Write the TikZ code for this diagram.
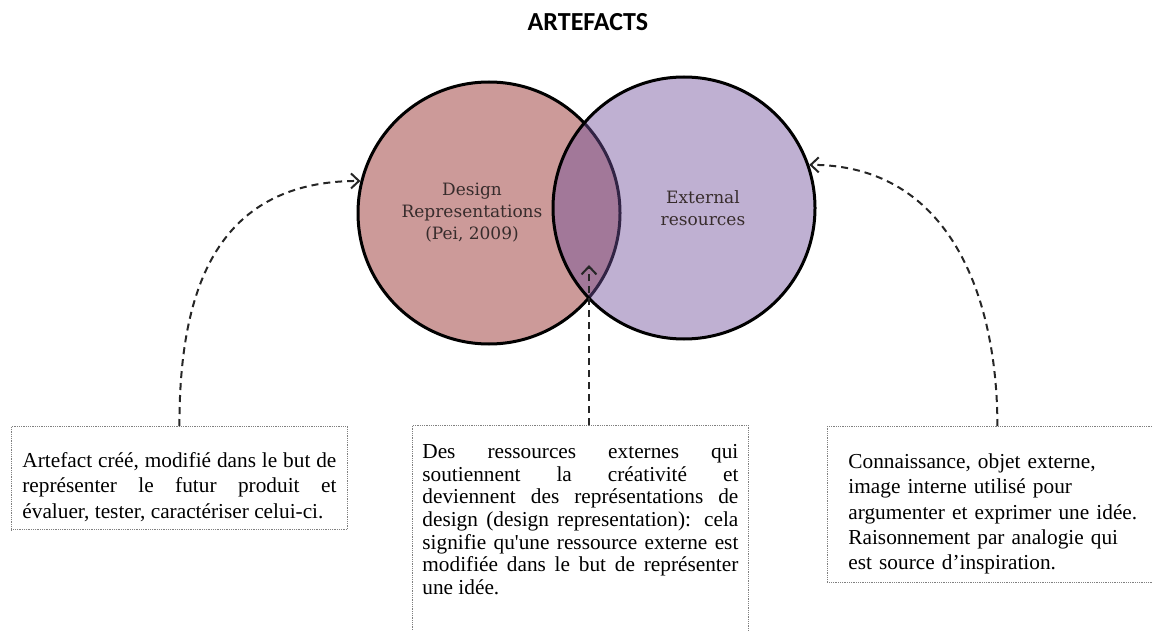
\documentclass[tikz,border=0pt]{standalone}
\usepackage{fontspec}
\setmainfont{Liberation Serif}
\newfontfamily\boxfont{Liberation Serif}
\newfontfamily\circfont{DejaVu Serif}
\newfontfamily\titlefont{Carlito}
\usetikzlibrary{arrows.meta}
\definecolor{drpink}{RGB}{204,154,153}
\definecolor{respurple}{RGB}{113,80,155}
\definecolor{circtext}{RGB}{55,44,44}
\tikzstyle{setcircle} = [circle, draw=black, line width=3pt, minimum size=262pt, inner sep=0pt]
\tikzstyle{circlabel} = [align=center, text=circtext, font=\circfont\fontsize{17pt}{22pt}\selectfont]
\tikzstyle{notebox} = [rectangle, draw=gray, densely dotted, line width=0.8pt, anchor=north west, inner ysep=8pt]
\tikzstyle{link} = [draw=black!85, line width=2pt, dash pattern=on 7pt off 5pt, -{Straight Barb[length=8pt,width=15pt]}]

\begin{document}
\begin{tikzpicture}[x=1pt, y=-1pt]
   \useasboundingbox (0,0) rectangle (1153,631);
   % nodes
   \node[font=\titlefont\bfseries\fontsize{26pt}{30pt}\selectfont] (title) at (588,22) {ARTEFACTS};
   \node[setcircle, fill=drpink] (dr) at (489,213) {};
   \node[setcircle, fill=respurple, fill opacity=0.45] (er) at (684,208) {};
   \node[circlabel] (drtext) at ([xshift=-17pt]dr.center) {Design\\Representations\\(Pei, 2009)};
   \node[circlabel] (ertext) at ([xshift=19pt]er.center) {External\\resources};
   \coordinate (tip) at (589,265);

   \node[notebox, text width=314pt, inner xsep=11pt, align=justify,
         font=\boxfont\fontsize{21.3pt}{25.5pt}\selectfont] (lbox) at (11,426)
        {\rule{0pt}{33pt}Artefact créé, modifié dans le but de\linebreak
         représenter le futur produit et\linebreak
         évaluer, tester, caractériser celui-ci.};
   \node[notebox, text width=316pt, inner xsep=10pt, align=justify,
         font=\boxfont\fontsize{21.3pt}{22.7pt}\selectfont] (mbox) at (412,425)
        {\rule{0pt}{25pt}Des ressources externes qui\linebreak
         soutiennent la créativité et\linebreak
         deviennent des représentations de\linebreak
         design (design representation): cela\linebreak
         signifie qu\textquotesingle une ressource externe est\linebreak
         modifiée dans le but de représenter\linebreak
         une idée.\rule[-45pt]{0pt}{0pt}};
   \node[notebox, text width=298pt, inner xsep=21pt, align=left,
         font=\boxfont\fontsize{21.3pt}{25.3pt}\selectfont] (rbox) at (827,426)
        {\rule{0pt}{34pt}Connaissance, objet externe,\\
         image interne utilisé pour\\
         argumenter et exprimer une idée.\\
         Raisonnement par analogie qui\\
         est source d’inspiration.};

   % edges
   \draw[link] (lbox.north) .. controls +(0,-130) and +(-148,0) .. (dr.166);
   \draw[link] (mbox.north -| tip) -- (tip);
   \draw[link] (rbox.north) .. controls +(0,-130) and +(140,0) .. (er.19);
\end{tikzpicture}
\end{document}
